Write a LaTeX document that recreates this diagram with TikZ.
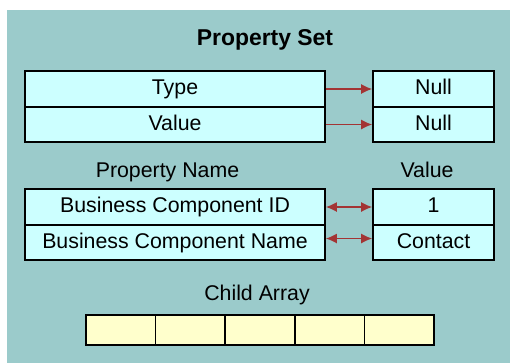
\documentclass[tikz,border=0pt]{standalone}
\usepackage{fontspec}
\setmainfont{Liberation Sans}
\usepackage{tikz}
\usetikzlibrary{arrows,arrows.meta,positioning,shapes,calc}
\definecolor{bgteal}{HTML}{9BCBCB}
\definecolor{cellcyan}{HTML}{CCFFFF}
\definecolor{cellyellow}{HTML}{FFFFCC}
\definecolor{linkred}{HTML}{A33434}

\begin{document}
\begin{tikzpicture}[x = 1bp, y = -1bp,
  txt/.style = {font = \fontsize{21.4}{21.4}\selectfont, text height = 15bp, text depth = 4bp},
  cell/.style = {txt, draw, line width = 1.6bp, fill = cellcyan, inner sep = 0,
                 minimum height = 35.5bp},
  namecell/.style = {cell, minimum width = 300bp},
  valcell/.style = {cell, minimum width = 121bp},
  arraycell/.style = {draw, line width = 1.6bp, fill = cellyellow, inner sep = 0,
                 minimum width = 69.6bp, minimum height = 30bp},
  link/.style = {linkred, line width = 1.5bp, -{Latex[length=11bp,width=10bp]}},
  duallink/.style = {link, {Latex[length=11bp,width=10bp]}-{Latex[length=11bp,width=10bp]}}]
\useasboundingbox (0,0) rectangle (510,363);
\fill[white] (0,0) rectangle (510,363);
\fill[bgteal] (7,10) rectangle (510,363);
\node[txt, font = \fontsize{23}{23}\selectfont\bfseries] (title) at (265,40) {Property Set};
% type and value
\node[namecell] (type) at (175,89) {Type};
\node[namecell] (value) at (175,124.5) {Value};
\node[valcell] (nulla) at (433.5,89) {Null};
\node[valcell] (nullb) at (433.5,124.5) {Null};
\draw[link] (type.east) -- (nulla.west);
\draw[link] (value.east) -- (nullb.west);
% property name / value pairs
\node[txt] (pname) at (167.5,172) {Property Name};
\node[txt] (pvalue) at (427,172) {Value};
\node[namecell] (bcid) at (175,207) {Business Component ID};
\node[namecell] (bcname) at (175,242.5) {Business Component Name};
\node[valcell] (idval) at (433.5,207) {1};
\node[valcell] (nameval) at (433.5,242.5) {Contact};
\draw[duallink] (bcid.east) -- (idval.west);
\draw[duallink] ([yshift=4bp]bcname.east) -- ([yshift=4bp]nameval.west);
% child array
\node[txt] (child) at (257,295) {Child Array};
\foreach \i in {0,...,4}
  \node[arraycell] (cell\i) at ({120.8+69.6*\i},330) {};
\end{tikzpicture}
\end{document}
